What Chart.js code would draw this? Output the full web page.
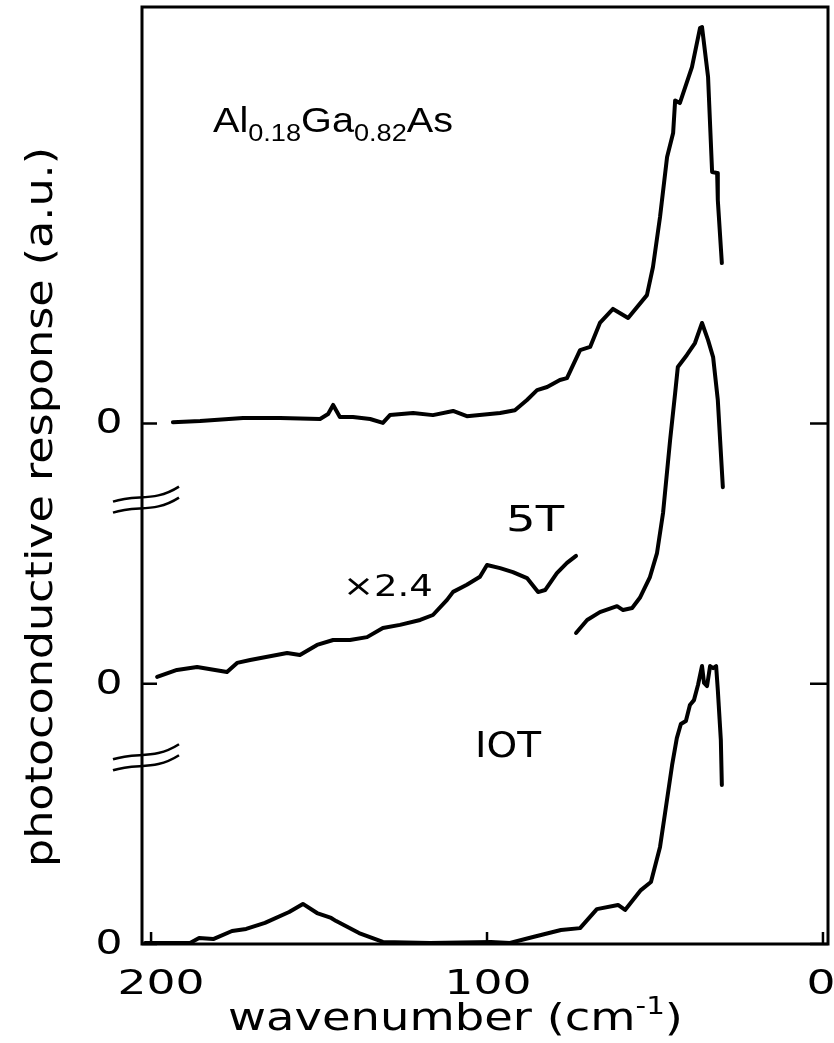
<!DOCTYPE html>
<html>
<head>
<meta charset="utf-8">
<script src="https://cdn.jsdelivr.net/npm/chart.js@4.4.1/dist/chart.umd.min.js"></script>
<style>
  html, body { margin: 0; padding: 0; background: #fff; }
  #wrap { width: 834px; height: 1043px; }
</style>
</head>
<body>
<div id="wrap"><canvas id="spectra" width="834" height="1043"></canvas></div>
<script>
// wavenumber (cm^-1) and response (a.u., measured from each trace's own zero)
const wnTop = [193.5, 185.4, 172.6, 161.6, 149.7, 147.3, 145.8, 143.8, 139.9, 134.8, 131.0, 128.9, 122.0, 116.1, 110.1, 106.0, 96.1, 91.7, 88.1, 85.1, 82.1, 78.3, 76.2, 72.3, 69.3, 66.4, 62.5, 58.0, 52.4, 50.6, 48.5, 46.4, 44.6, 44.0, 42.6, 39.0, 36.6, 36.0, 34.2, 33.0, 31.5, 31.3, 30.1];
const respTop = [0.05, 0.09, 0.21, 0.21, 0.17, 0.36, 0.71, 0.25, 0.25, 0.17, 0.02, 0.32, 0.40, 0.32, 0.48, 0.28, 0.40, 0.51, 0.90, 1.28, 1.40, 1.67, 1.74, 2.82, 2.94, 3.86, 4.40, 4.05, 4.93, 6.01, 7.93, 10.24, 11.16, 12.41, 12.31, 13.69, 15.19, 15.23, 13.31, 9.66, 9.62, 8.58, 6.16];

// 5 T, low-frequency part shown magnified x2.4
const wn5Tx24 = [198.2, 192.3, 186.3, 177.4, 174.4, 170.5, 159.5, 155.7, 150.6, 145.8, 140.8, 135.7, 131.0, 125.9, 119.9, 116.1, 111.9, 110.1, 106.0, 102.1, 100.0, 96.1, 92.3, 88.1, 84.8, 82.7, 79.2, 76.2, 73.5];
const resp5Tx24 = [0.26, 0.53, 0.64, 0.45, 0.80, 0.91, 1.18, 1.10, 1.49, 1.68, 1.68, 1.79, 2.14, 2.26, 2.45, 2.64, 3.22, 3.53, 3.80, 4.11, 4.56, 4.44, 4.29, 4.06, 3.52, 3.60, 4.25, 4.64, 4.91];

// 5 T, unscaled part
const wn5T = [73.5, 70.2, 66.4, 61.3, 59.5, 56.8, 54.5, 51.5, 49.4, 47.6, 45.5, 44.0, 43.2, 40.5, 38.1, 36.0, 34.2, 32.7, 31.3, 29.8];
const resp5T = [1.95, 2.45, 2.75, 2.98, 2.83, 2.91, 3.30, 4.10, 5.02, 6.56, 9.36, 11.17, 12.17, 12.63, 13.09, 13.86, 13.20, 12.55, 10.90, 7.55];

// 10 T
const wn10T = [201.8, 188.4, 185.7, 181.5, 175.9, 171.7, 166.1, 158.9, 154.8, 150.6, 146.4, 144.9, 138.1, 131.0, 117.0, 98.8, 93.2, 86.3, 78.0, 72.3, 67.3, 61.0, 58.9, 54.2, 51.2, 48.5, 47.0, 44.9, 43.5, 42.3, 40.8, 39.6, 38.4, 37.2, 36.0, 35.4, 34.5, 33.6, 32.7, 31.8, 31.3, 30.4, 30.1];
const resp10T = [0.04, 0.04, 0.23, 0.19, 0.50, 0.58, 0.81, 1.23, 1.54, 1.19, 1.00, 0.88, 0.42, 0.08, 0.04, 0.08, 0.04, 0.27, 0.54, 0.61, 1.34, 1.50, 1.31, 2.07, 2.38, 3.73, 5.03, 6.88, 7.91, 8.45, 8.57, 9.18, 9.37, 9.95, 10.68, 10.03, 9.91, 10.68, 10.60, 10.68, 9.76, 7.84, 6.11];

// where each trace's zero sits on the stacked axis
const zeroTop = 20;
const zero5T = 10;
const zero10T = 0;

const xTickValues = [200, 100, 0];
const yZeroValues = [zero10T, zero5T, zeroTop];
const yBreakValues = [16.9, 7.0];

function toPoints(wn, resp, zero) {
  return wn.map((x, i) => ({ x: x, y: resp[i] + zero }));
}

function trace(label, wn, resp, zero) {
  return {
    label: label,
    data: toPoints(wn, resp, zero),
    borderColor: '#000',
    borderWidth: 4,
    pointRadius: 0,
    tension: 0,
    fill: false,
    borderJoinStyle: 'round',
    borderCapStyle: 'round'
  };
}

// draw text squeezed/stretched horizontally to a given width
function fitText(ctx, text, cx, cy, font, width) {
  ctx.save();
  ctx.font = font;
  const w = ctx.measureText(text).width;
  ctx.translate(cx, cy);
  ctx.scale(width / w, 1);
  ctx.textAlign = 'center';
  ctx.textBaseline = 'middle';
  ctx.fillText(text, 0, 0);
  ctx.restore();
}

// text runs: [string, fontSize, baselineShift]
function drawRuns(ctx, runs, x, baseline, family, width) {
  ctx.save();
  let total = 0;
  runs.forEach(r => { ctx.font = r[1] + 'px ' + family; total += ctx.measureText(r[0]).width; });
  ctx.translate(x, baseline);
  ctx.scale(width / total, 1);
  ctx.textBaseline = 'alphabetic';
  ctx.textAlign = 'left';
  let pos = 0;
  runs.forEach(r => {
    ctx.font = r[1] + 'px ' + family;
    ctx.fillText(r[0], pos, r[2]);
    pos += ctx.measureText(r[0]).width;
  });
  ctx.restore();
}

const GEO = '"DejaVu Sans", sans-serif';
const HELV = '"Liberation Sans", Arial, sans-serif';

const decorations = {
  id: 'decorations',
  afterDatasetsDraw(chart) {
    const ctx = chart.ctx;
    const area = chart.chartArea;
    const xs = chart.scales.x;
    const ys = chart.scales.y;
    ctx.save();
    ctx.strokeStyle = '#000';
    ctx.fillStyle = '#000';

    // frame
    ctx.lineWidth = 3;
    ctx.strokeRect(area.left, area.top, area.right - area.left, area.bottom - area.top);

    // inward ticks at each zero line, both sides
    ctx.lineWidth = 2.5;
    yZeroValues.forEach(v => {
      const y = ys.getPixelForValue(v);
      ctx.beginPath();
      ctx.moveTo(area.left, y); ctx.lineTo(area.left + 15, y);
      ctx.moveTo(area.right, y); ctx.lineTo(area.right - 18, y);
      ctx.stroke();
    });
    xTickValues.forEach(v => {
      const x = xs.getPixelForValue(v);
      ctx.beginPath();
      ctx.moveTo(x, area.bottom); ctx.lineTo(x, area.bottom - 12);
      ctx.stroke();
    });

    // axis break marks
    ctx.lineWidth = 2.5;
    yBreakValues.forEach(v => {
      const yc = ys.getPixelForValue(v);
      [-5.5, 5.5].forEach(d => {
        const x0 = area.left;
        ctx.beginPath();
        ctx.moveTo(x0 - 29, yc + d + 3);
        ctx.bezierCurveTo(x0 - 5, yc + d - 5, x0 + 12, yc + d + 4, x0 + 37, yc + d - 12);
        ctx.stroke();
      });
    });

    // tick labels
    const nudge = { 200: 10, 100: 1, 0: -2 };
    xTickValues.forEach(v => {
      fitText(ctx, String(v), xs.getPixelForValue(v) + nudge[v], 985, '34px ' + GEO,
              String(v).length * 29);
    });
    yZeroValues.forEach(v => {
      fitText(ctx, '0', 109, ys.getPixelForValue(v) + 1, '34px ' + GEO, 27);
    });

    // axis titles
    const titleY = 1030;
    drawRuns(ctx, [['wavenumber (cm', 38, 0], ['-1', 24, -16], [')', 38, 0]], 228, titleY, GEO, 455);
    ctx.save();
    ctx.translate(42, 507);
    ctx.rotate(-Math.PI / 2);
    fitText(ctx, 'photoconductive response (a.u.)', 0, 0, '38px ' + GEO, 720);
    ctx.restore();

    // sample composition
    drawRuns(ctx, [['Al', 35, 0], ['0.18', 24, 9], ['Ga', 35, 0], ['0.82', 24, 9], ['As', 35, 0]],
             213, 132, HELV, 240);

    // trace annotations
    fitText(ctx, '×2.4', xs.getPixelForValue(129.5), ys.getPixelForValue(13.68), '30px ' + GEO, 90);
    fitText(ctx, '5T', xs.getPixelForValue(85.7), ys.getPixelForValue(16.21), '36px ' + GEO, 58);
    fitText(ctx, 'IOT', xs.getPixelForValue(93.75), ys.getPixelForValue(7.53), '36px ' + GEO, 66);

    ctx.restore();
  }
};

const ctx = document.getElementById('spectra').getContext('2d');
window.myChart = new Chart(ctx, {
  type: 'line',
  data: {
    datasets: [
      trace('top', wnTop, respTop, zeroTop),
      trace('5T x2.4', wn5Tx24, resp5Tx24, zero5T),
      trace('5T', wn5T, resp5T, zero5T),
      trace('10T', wn10T, resp10T, zero10T)
    ]
  },
  options: {
    responsive: false,
    animation: false,
    layout: { padding: { top: 7, right: 6, left: 0, bottom: 0 } },
    plugins: { legend: { display: false }, tooltip: { enabled: false } },
    scales: {
      x: {
        type: 'linear', reverse: true, min: -1.5, max: 202.7,
        ticks: { display: false }, grid: { display: false }, border: { display: false },
        afterFit: s => { s.height = 1043 - 944; s.paddingLeft = 0; s.paddingRight = 0; }
      },
      y: {
        type: 'linear', min: 0, max: 36,
        ticks: { display: false }, grid: { display: false }, border: { display: false },
        afterFit: s => { s.width = 142; s.paddingTop = 0; s.paddingBottom = 0; }
      }
    }
  },
  plugins: [decorations]
});
</script>
</body>
</html>
